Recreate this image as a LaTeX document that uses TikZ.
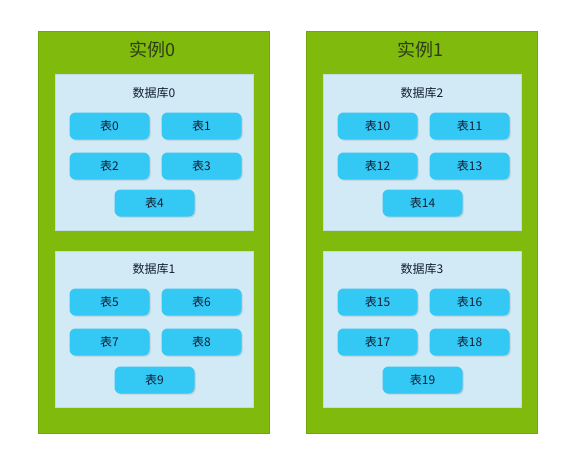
\documentclass[tikz,border=0pt]{standalone}
\usepackage{fontspec}
\setmainfont{Noto Sans CJK SC}
\usepackage{tikz}
\usetikzlibrary{positioning,shadows}
\definecolor{instgreen}{RGB}{127,186,13}
\definecolor{dbblue}{RGB}{209,234,245}
\definecolor{tabblue}{RGB}{52,200,245}
\definecolor{titletext}{RGB}{45,60,20}
\definecolor{tabtext}{RGB}{20,30,50}
\tikzset{%
	instance/.style = {fill=instgreen, draw=instgreen!90!black, minimum width=231pt, minimum height=402pt, drop shadow={opacity=0.15,shadow xshift=1pt,shadow yshift=-1pt}},
	database/.style = {fill=dbblue, draw=dbblue!85!gray, minimum width=198pt, minimum height=156pt, drop shadow={opacity=0.2,shadow xshift=1pt,shadow yshift=-1pt}},
	table/.style    = {fill=tabblue, rounded corners=6pt, minimum width=80pt, minimum height=27pt, text=tabtext, font=\fontsize{12}{13}\selectfont, drop shadow={opacity=0.25,shadow xshift=1.2pt,shadow yshift=-1.2pt}},
	insttitle/.style= {text=titletext, font=\fontsize{18}{20}\selectfont},
	dbtitle/.style  = {text=tabtext, font=\fontsize{12}{13}\selectfont},
}
\begin{document}
\begin{tikzpicture}[x=1pt,y=-1pt]
	\useasboundingbox (0,0) rectangle (570,460);
	
	% instance 0
	\node[instance] (inst0) at (153.5,232) {};
	\node[insttitle] (inst0title) at (152,50) {实例0};
	\node[database] (db0) at (154,152) {};
	\node[dbtitle] (db0title) at (154,93) {数据库0};
	\node[table] (t0) at (109.5,126) {表0};
	\node[table] (t1) at (201.5,126) {表1};
	\node[table] (t2) at (109.5,166) {表2};
	\node[table] (t3) at (201.5,166) {表3};
	\node[table] (t4) at (154.5,203) {表4};
	\node[database] (db1) at (154,329) {};
	\node[dbtitle] (db1title) at (154,269) {数据库1};
	\node[table] (t5) at (109.5,302) {表5};
	\node[table] (t6) at (201.5,302) {表6};
	\node[table] (t7) at (109.5,342) {表7};
	\node[table] (t8) at (201.5,342) {表8};
	\node[table] (t9) at (154.5,380) {表9};
	
	% instance 1
	\begin{scope}[shift={(268,0)}]
	\node[instance] (inst1) at (153.5,232) {};
	\node[insttitle] (inst1title) at (152,50) {实例1};
	\node[database] (db2) at (154,152) {};
	\node[dbtitle] (db2title) at (154,93) {数据库2};
	\node[table] (t10) at (109.5,126) {表10};
	\node[table] (t11) at (201.5,126) {表11};
	\node[table] (t12) at (109.5,166) {表12};
	\node[table] (t13) at (201.5,166) {表13};
	\node[table] (t14) at (154.5,203) {表14};
	\node[database] (db3) at (154,329) {};
	\node[dbtitle] (db3title) at (154,269) {数据库3};
	\node[table] (t15) at (109.5,302) {表15};
	\node[table] (t16) at (201.5,302) {表16};
	\node[table] (t17) at (109.5,342) {表17};
	\node[table] (t18) at (201.5,342) {表18};
	\node[table] (t19) at (154.5,380) {表19};
	\end{scope}
\end{tikzpicture}
\end{document}
